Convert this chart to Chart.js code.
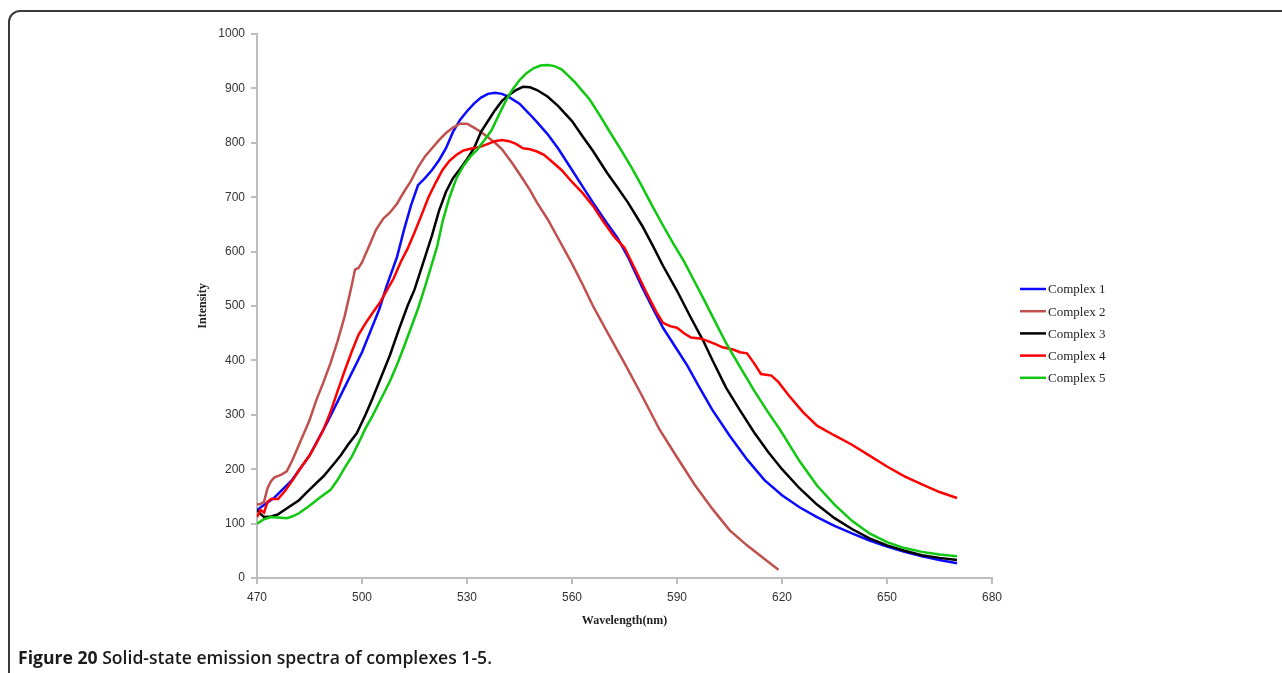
<!DOCTYPE html>
<html>
<head>
<meta charset="utf-8">
<script src="https://cdn.jsdelivr.net/npm/chart.js@4.4.0/dist/chart.umd.min.js"></script>
<style>
  html, body { margin: 0; padding: 0; background: #fff; overflow: hidden; }
  #frame {
    position: absolute; left: 8px; top: 10px; width: 1320px; height: 720px;
    border: 2px solid #3a3a3a; border-radius: 12px; box-sizing: border-box;
  }
  #chart { position: absolute; left: 0; top: 0; }
  #caption {
    position: absolute; left: 18px; top: 645px; font-family: "Open Sans", sans-serif;
    font-size: 17.6px; font-weight: 600; color: #1a1a1a; white-space: nowrap;
  }
  #caption b { font-weight: 700; }
</style>
</head>
<body>
<div id="frame"></div>
<canvas id="chart" width="1282" height="673"></canvas>
<div id="caption"><b>Figure 20</b> Solid-state emission spectra of complexes 1-5.</div>
<script>
// Solid-state emission spectra
const seriesNames = ['Complex 1', 'Complex 2', 'Complex 3', 'Complex 4', 'Complex 5'];
const seriesColors = ['#0a0aff', '#c0504d', '#000000', '#ff0000', '#0fc80f'];

const xTicks = [470, 500, 530, 560, 590, 620, 650, 680];
const yTicks = [0, 100, 200, 300, 400, 500, 600, 700, 800, 900, 1000];

const wl1 = [470,475,480,485,490,495,500,505,507,510,512,514,516,518,520,522,524,526,528,530,532,534,536,538,540,542,545,548,550,553,556,560,563,566,570,573,576,580,583,586,590,593,596,600,605,610,615,620,625,630,635,640,645,650,655,660,665,670];
const c1 = [125,148,180,225,285,350,415,495,536,590,640,685,722,735,750,768,790,820,842,858,872,883,890,892,890,884,872,852,838,816,790,750,720,690,652,625,590,535,497,460,420,390,355,310,262,218,180,152,130,112,96,82,69,58,48,40,33,27];

const wl2 = [470,471,472,473,474,475,477,478.5,480,482,485,487,489,491,493,495,497,498,499,500,502,504,506,508,510,512,514,516,518,520,522,524,526,528,530,532,534,536,538,540,543,546,548,550,553,556,560,563,566,570,575,580,585,590,595,600,605,610,615,619];
const c2 = [135,136,140,165,178,185,190,196,215,245,290,328,360,395,435,480,536,567,570,580,610,640,660,672,688,710,730,755,775,790,805,818,828,835,835,828,820,810,800,788,762,733,713,690,660,625,578,540,500,453,395,335,273,222,172,128,88,60,35,15];

const wl3 = [470,471,472,474,476,479,482,484,487,489,492,494,496,498.5,501,503,505.5,508,510.5,513,515,516.5,518,520,522,524,526,528,530,532,534,536,538,540,542,544,546,548,550,553,556,560,563,566,570,573,576,580,583,586,590,594,597.5,600,604,608,612,616,620,625,630,635,640,645,650,655,660,665,670];
const c3 = [125,118,112,113,117,130,143,156,175,187,210,226,245,266,300,330,370,410,456,500,530,560,590,630,675,710,735,752,770,790,820,840,860,877,888,897,903,902,897,885,868,840,812,785,745,718,690,648,612,574,528,478,436,402,350,308,268,232,200,165,135,110,90,73,60,50,42,37,33];

const wl4 = [470,471,472,473,474,476,478,480,482,485,487,489,491,493,495,497,499,501,503,505,507,509,511,513,515,517,519,521,523,525,527,529,531,534,536,538,540,542,544,546,548,550,552,554,557,560,563,566,569,572,575,578,581,584,586,588,590,592,594,597,599,601,603,606,608,610,612,614,617,619,622,626,630,635,640,645,650,655,660,665,670];
const c4 = [112,125,120,140,145,145,160,178,198,225,248,273,305,343,380,415,447,468,487,505,528,550,580,605,635,667,700,726,750,767,778,786,789,793,798,803,805,803,798,790,788,784,778,767,750,728,708,684,655,628,607,568,528,490,469,463,460,450,442,440,435,430,424,420,415,413,395,375,372,360,335,305,280,262,245,225,205,187,172,158,147];

const wl5 = [470,472,474,476,478.5,480,482,484,486,488,491,493,495,497,499,501,503,505.5,508,510,512,514,516,518,520,521.5,523,525,527,529,531,533,535,537,539,541,543,545,547,549,551,553,555,557,559,561,563,565,568,571,574,577,580,583,586,589,592,595,598,601,604,608,612,616,619.5,625,630,635,640,645,650,655,660,665,670];
const c5 = [100,108,112,111,110,113,119,128,138,148,162,180,202,222,248,275,298,330,362,392,425,460,495,535,578,610,655,700,735,758,775,788,805,823,850,876,898,915,928,937,942,943,941,935,923,910,895,880,850,818,787,755,720,683,648,614,582,545,508,470,432,388,345,305,272,215,170,135,105,82,66,55,48,43,40];

const wavelengths = [wl1, wl2, wl3, wl4, wl5];
const intensities = [c1, c2, c3, c4, c5];

const axisColor = '#bdbdbd';
const tickFont = { family: '"Liberation Sans", sans-serif', size: 12 };
const titleFont = { family: '"Liberation Serif", serif', size: 12, weight: 'bold' };

const datasets = seriesNames.map((name, i) => ({
    label: name,
    data: wavelengths[i].map((x, k) => ({ x, y: intensities[i][k] })),
    borderColor: seriesColors[i],
    backgroundColor: seriesColors[i],
    borderWidth: 2.5,
    pointRadius: 0,
    tension: 0,
    fill: false,
    order: seriesNames.length - i   // later series on top, like the original
}));

// legend sits to the right, a bit below the middle of the plot
const sideLegend = {
    id: 'sideLegend',
    afterDraw(chart) {
        const ctx = chart.ctx;
        ctx.save();
        ctx.font = '13px "Liberation Serif", serif';
        ctx.textBaseline = 'middle';
        ctx.textAlign = 'left';
        chart.data.datasets.forEach((ds, i) => {
            const y = 289 + i * 22.2;
            ctx.strokeStyle = ds.borderColor;
            ctx.lineWidth = 2.5;
            ctx.beginPath();
            ctx.moveTo(1020, y);
            ctx.lineTo(1046, y);
            ctx.stroke();
            ctx.fillStyle = '#222';
            ctx.fillText(ds.label, 1048, y + 1);
        });
        ctx.restore();
    }
};

new Chart(document.getElementById('chart'), {
    type: 'line',
    data: { datasets },
    plugins: [sideLegend],
    options: {
        responsive: false,
        animation: false,
        layout: { padding: { left: 192, top: 34, right: 290, bottom: 41 } },
        plugins: {
            legend: { display: false },
            tooltip: { enabled: false }
        },
        scales: {
            x: {
                type: 'linear',
                min: xTicks[0],
                max: xTicks[xTicks.length - 1],
                afterBuildTicks: s => { s.ticks = xTicks.map(v => ({ value: v })); },
                afterFit: s => { s.height = 54; },
                ticks: { color: '#333', font: tickFont, padding: 6, maxRotation: 0, callback: v => String(v) },
                grid: { drawOnChartArea: false, drawTicks: true, tickLength: 6, color: axisColor, lineWidth: 2 },
                border: { color: axisColor, width: 2 },
                title: { display: true, text: 'Wavelength(nm)', color: '#222', font: titleFont, padding: 4 }
            },
            y: {
                min: yTicks[0],
                max: yTicks[yTicks.length - 1],
                afterBuildTicks: s => { s.ticks = yTicks.map(v => ({ value: v })); },
                afterFit: s => { s.width = 65; },
                ticks: { color: '#333', font: tickFont, padding: 6, callback: v => String(v) },
                grid: { drawOnChartArea: false, drawTicks: true, tickLength: 6, color: axisColor, lineWidth: 2 },
                border: { color: axisColor, width: 2 },
                title: { display: true, text: 'Intensity', color: '#222', font: titleFont, padding: 4 }
            }
        }
    }
});
</script>
</body>
</html>
